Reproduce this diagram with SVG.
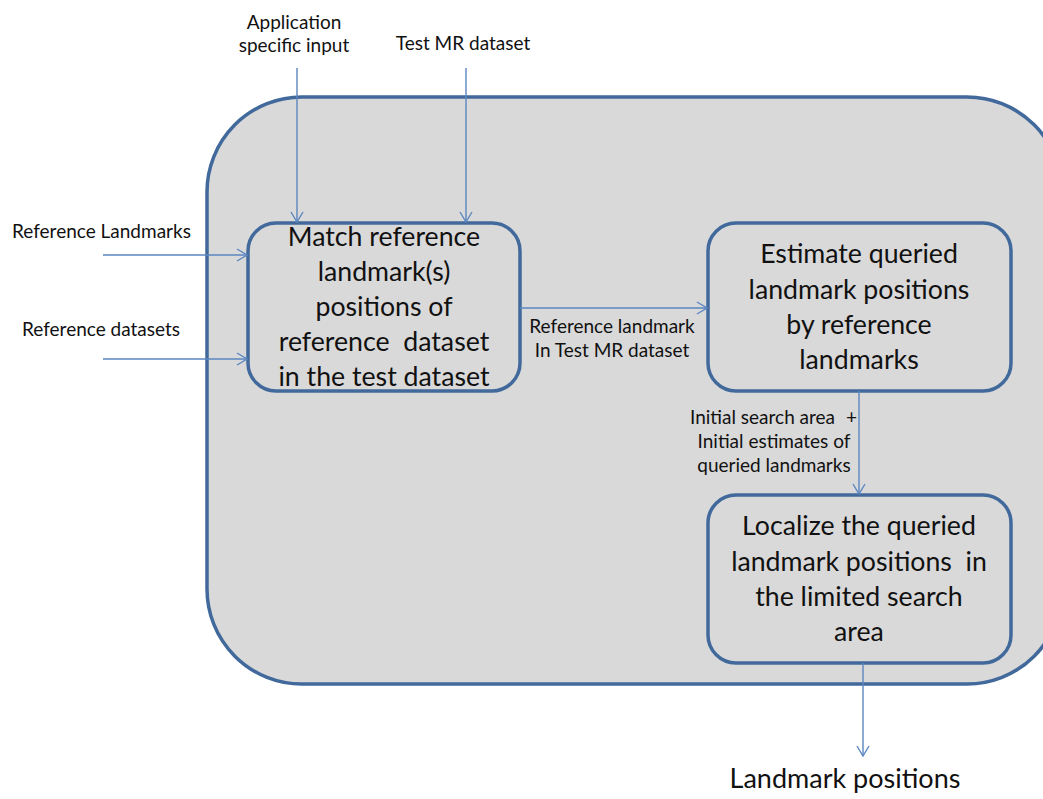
<svg xmlns="http://www.w3.org/2000/svg" width="1043" height="799" viewBox="0 0 1043 799">
<style>
.box{fill:#d9d9d9;stroke:#41699b;stroke-width:3.5}
.big{font-family:Lato,"Open Sans",sans-serif;font-size:26.7px;fill:#111;text-anchor:middle}
.sm{font-family:Lato,"Open Sans",sans-serif;font-size:19px;fill:#111}
.c{text-anchor:middle}
.con{stroke:#5b86c0;stroke-width:1.4;fill:none}
</style>
<defs>
<marker id="ah" markerWidth="12" markerHeight="14" refX="11" refY="7" orient="auto" markerUnits="userSpaceOnUse">
<path d="M1,1 L11,7 L1,13" fill="none" stroke="#5b86c0" stroke-width="1.4"/>
</marker>
</defs>
<rect width="1043" height="799" fill="#fff"/>
<g id="container"><rect class="box" x="207" y="97" width="855" height="587" rx="95"/></g>
<g id="n1"><rect class="box" x="248" y="223" width="272" height="168" rx="28"/>
<text class="big" x="384" y="246">Match reference</text>
<text class="big" x="384" y="281">landmark(s)</text>
<text class="big" x="384" y="316">positions of</text>
<text class="big" x="384" y="351" xml:space="preserve">reference  dataset</text>
<text class="big" x="384" y="386">in the test dataset</text></g>
<g id="n2"><rect class="box" x="708" y="223" width="303" height="168" rx="28"/>
<text class="big" x="859" y="263">Estimate queried</text>
<text class="big" x="859" y="299">landmark positions</text>
<text class="big" x="859" y="334">by reference</text>
<text class="big" x="859" y="369">landmarks</text></g>
<g id="n3"><rect class="box" x="708" y="495" width="303" height="168" rx="28"/>
<text class="big" x="859" y="535">Localize the queried</text>
<text class="big" x="859" y="571" xml:space="preserve">landmark positions  in</text>
<text class="big" x="859" y="606">the limited search</text>
<text class="big" x="859" y="641">area</text></g>
<g id="labels">
<text class="sm c" x="294" y="29">Application</text>
<text class="sm c" x="294" y="52">specific input</text>
<text class="sm c" x="463" y="50">Test MR dataset</text>
<text class="sm" x="12" y="238">Reference Landmarks</text>
<text class="sm" x="22" y="336">Reference datasets</text>
<text class="sm c" x="612" y="333">Reference landmark</text>
<text class="sm c" x="612" y="357">In Test MR dataset</text>
<text class="sm" x="690" y="424">Initial search area<tspan x="846">+</tspan></text>
<text class="sm c" x="774" y="448">Initial estimates of</text>
<text class="sm c" x="774" y="472">queried landmarks</text>
<text class="big" x="845" y="788" style="font-size:27px">Landmark positions</text>
</g>
<g id="connectors">
<line class="con" x1="297" y1="68" x2="297" y2="222" marker-end="url(#ah)"/>
<line class="con" x1="466" y1="68" x2="466" y2="222" marker-end="url(#ah)"/>
<line class="con" x1="103" y1="255" x2="247" y2="255" marker-end="url(#ah)"/>
<line class="con" x1="103" y1="359" x2="247" y2="359" marker-end="url(#ah)"/>
<line class="con" x1="520" y1="308" x2="707" y2="308" marker-end="url(#ah)"/>
<line class="con" x1="859" y1="391" x2="859" y2="494" marker-end="url(#ah)"/>
<line class="con" x1="863" y1="663" x2="863" y2="756" marker-end="url(#ah)"/>
</g>
</svg>
